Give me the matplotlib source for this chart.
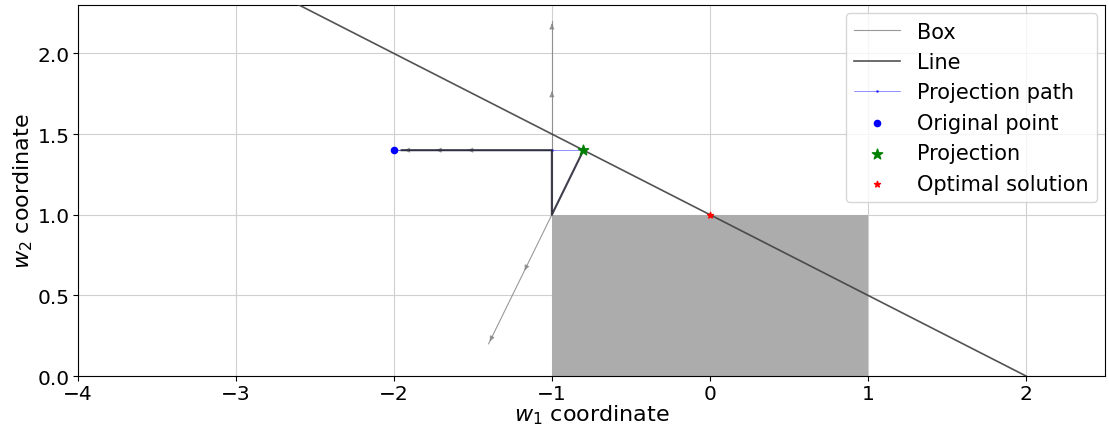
import matplotlib.pyplot as plt
import numpy as np

# constraint line w1 + 2 w2 = 2
line_x = [-4, 2]
line_y = [3.0, 0.0]

# box [-1, 1] x [0, 1]
box_x = [-1, 1]
box_y = [0, 1]

# gray arrow rays (start, end)
ray_up_x = [-1, -1]
ray_up_y = [1.0, 2.2]
ray_diag_x = [-1, -1.4]
ray_diag_y = [1.0, 0.2]
ray_left_x = [-1, -2]
ray_left_y = [1.4, 1.4]

# arrowhead tips along the rays
head_tips = [(-1, 1.78), (-1, 2.2), (-1.18, 0.64), (-1.4, 0.2),
             (-1.55, 1.4), (-1.75, 1.4), (-1.95, 1.4)]
head_dirs = [(0, 1), (0, 1), (-1, -2), (-1, -2), (-1, 0), (-1, 0), (-1, 0)]

# dark path segments
dark_x = [-1.95, -1, -1, -0.8]
dark_y = [1.4, 1.4, 1.0, 1.4]

# projection path (blue, thin)
path_x = [-2, -1, -0.8]
path_y = [1.4, 1.4, 1.4]

orig_pt = (-2, 1.4)
proj_pt = (-0.8, 1.4)
opt_pt = (0, 1)

fig, ax = plt.subplots(figsize=(11.09, 4.27), dpi=100)
fig.subplots_adjust(left=0.070, right=0.9965, top=0.986, bottom=0.117)

ax.fill_between(box_x, box_y[0], box_y[1], color='#acacac', zorder=1, lw=0)

ax.plot(ray_up_x, ray_up_y, color='gray', lw=0.8, alpha=0.8, label='Box', zorder=2)
ax.plot(ray_diag_x, ray_diag_y, color='gray', lw=0.8, alpha=0.8, zorder=2)
ax.plot(ray_left_x, ray_left_y, color='gray', lw=0.8, alpha=0.8, zorder=2)
for (tx, ty), (dx, dy) in zip(head_tips, head_dirs):
    n = np.hypot(dx, dy)
    ax.annotate('', xy=(tx, ty), xytext=(tx - 0.04 * dx / n, ty - 0.04 * dy / n),
                arrowprops=dict(arrowstyle='-|>', color='gray', lw=0.8,
                                mutation_scale=7, alpha=0.7), zorder=2)

ax.plot(line_x, line_y, color='#404040', lw=1.2, alpha=0.9, label='Line', zorder=3)
ax.plot(path_x, path_y, color='blue', lw=0.5, alpha=0.6, marker='.', ms=2,
        label='Projection path', zorder=3)
ax.plot(dark_x, dark_y, color='#2a2a3a', lw=1.5, alpha=0.9, zorder=4)

ax.scatter(*orig_pt, color='blue', s=20, label='Original point', zorder=5)
ax.scatter(*proj_pt, color='green', marker='*', s=60, label='Projection', zorder=5)
ax.scatter(*opt_pt, color='red', marker='*', s=20, label='Optimal solution', zorder=5)

ax.set_xlim(-4, 2.5)
ax.set_ylim(0, 2.3)
ax.set_xticks([-4, -3, -2, -1, 0, 1, 2])
ax.set_yticks([0.0, 0.5, 1.0, 1.5, 2.0])
ax.tick_params(labelsize=14.5, pad=2)
ax.grid(True, color='#d0d0d0', lw=0.8)
ax.set_axisbelow(True)
ax.set_xlabel('$w_1$ coordinate', fontsize=16, labelpad=0)
ax.set_ylabel('$w_2$ coordinate', fontsize=16, labelpad=2)
ax.legend(loc='upper right', fontsize=15, handlelength=2.2, labelspacing=0.5,
          borderaxespad=0.4)

fig.savefig('out.png')
